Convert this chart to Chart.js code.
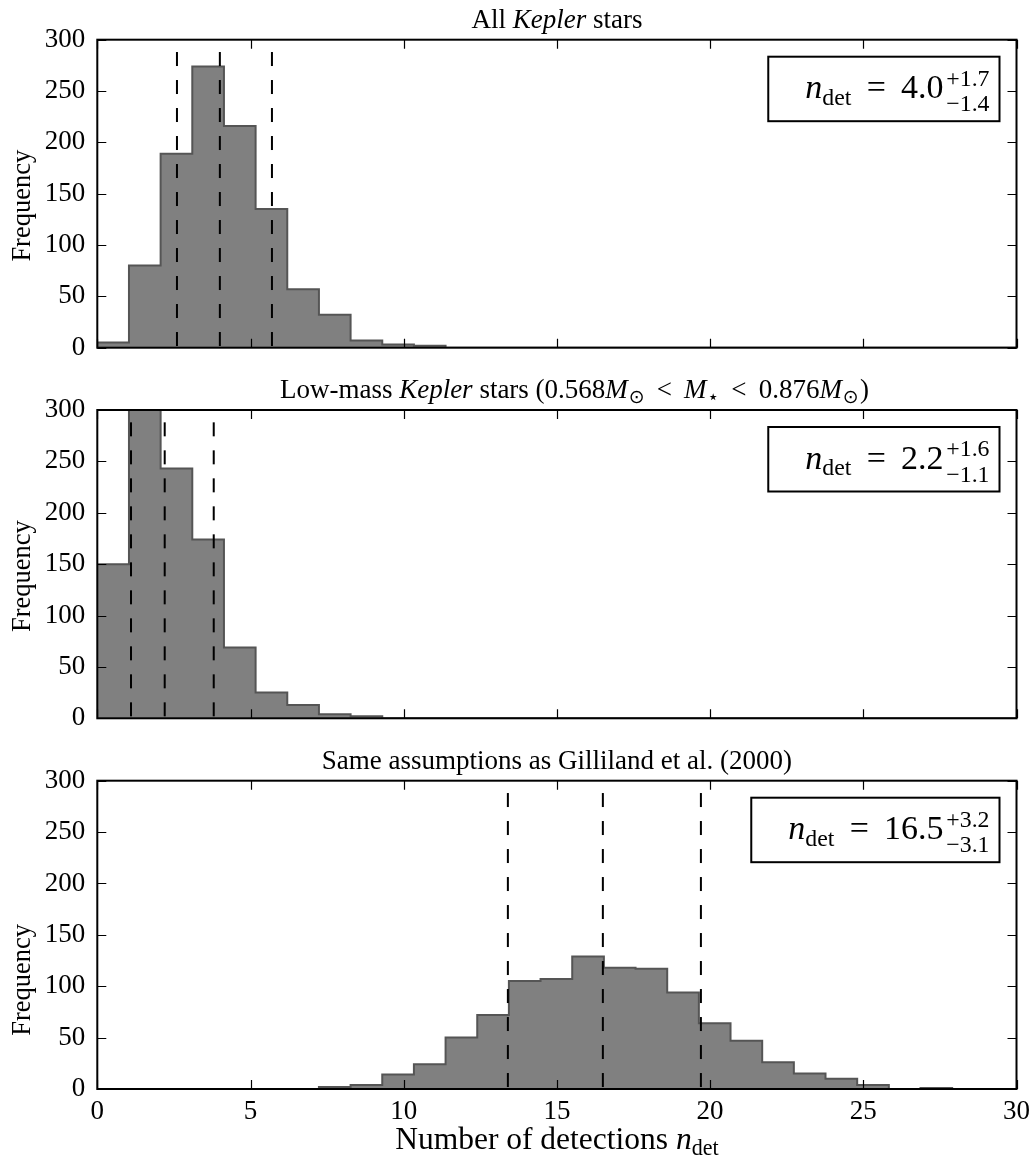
<!DOCTYPE html>
<html>
<head>
<meta charset="utf-8">
<script src="https://cdn.jsdelivr.net/npm/chart.js@4.4.1/dist/chart.umd.min.js"></script>
<style>
html,body{margin:0;padding:0;background:#fff;}
#wrap{position:relative;width:1030px;height:1161px;background:#fff;}
canvas{position:absolute;left:0;top:0;}
</style>
</head>
<body>
<div id="wrap">
<canvas id="c1" width="1030" height="1161"></canvas>
<canvas id="c2" width="1030" height="1161"></canvas>
<canvas id="c3" width="1030" height="1161"></canvas>
</div>
<script>
// ---------------- data ----------------
const binWidth = 31 / 30;           // 30 bins spanning 0..31
const xTicks = [0, 5, 10, 15, 20, 25, 30];
const yTicks = [0, 50, 100, 150, 200, 250, 300];

const countsAll = [5, 80, 189, 274, 216, 135, 57, 32, 7, 3, 2, 0, 0, 0, 0,
                   0, 0, 0, 0, 0, 0, 0, 0, 0, 0, 0, 0, 0, 0, 0];
const countsLowMass = [150, 320, 243, 174, 69, 25, 13, 4, 2, 0, 0, 0, 0, 0, 0,
                       0, 0, 0, 0, 0, 0, 0, 0, 0, 0, 0, 0, 0, 0, 0];
const countsGilliland = [0, 0, 0, 0, 0, 0, 0, 2, 4, 14, 24, 50, 72, 105, 107,
                         129, 118, 117, 94, 64, 47, 26, 15, 10, 4, 0, 1, 0, 0, 0];

const quantAll = [2.6, 4.0, 5.7];
const quantLowMass = [1.1, 2.2, 3.8];
const quantGilliland = [13.4, 16.5, 19.7];
const dashTop = 288;

const medianAll = ['4.0', '+1.7', '\u22121.4'];
const medianLowMass = ['2.2', '+1.6', '\u22121.1'];
const medianGilliland = ['16.5', '+3.2', '\u22123.1'];

const titleAll = [{t: 'All '}, {t: 'Kepler', i: true}, {t: ' stars'}];
const titleLowMass = [{t: 'Low-mass '}, {t: 'Kepler', i: true}, {t: ' stars ('},
  {t: '0.568'}, {t: 'M', i: true}, {g: 0.03}, {t: '\u2299', s: 0.7, dy: 0.18, ff: 'sans'},
  {g: 0.45}, {t: '<'}, {g: 0.45}, {t: 'M', i: true}, {g: 0.03}, {t: '\u22C6', s: 0.7, dy: 0.18, ff: 'sans'},
  {g: 0.45}, {t: '<'}, {g: 0.45}, {t: '0.876'}, {t: 'M', i: true}, {g: 0.03}, {t: '\u2299', s: 0.7, dy: 0.18, ff: 'sans'}, {g: 0.05}, {t: ')'}];
const titleGilliland = [{t: 'Same assumptions as Gilliland et al. (2000)'}];
const xLabelRuns = [{t: 'Number of detections '}, {t: 'n', i: true}, {t: 'det', s: 0.7, dy: 0.2}];
const yLabelText = 'Frequency';

// ---------------- helpers ----------------
const FF = '"Liberation Serif","Times New Roman",serif';
const FS = '"DejaVu Sans",sans-serif';
function fnt(italic, size, fam) { return (italic ? 'italic ' : '') + size + 'px ' + (fam === 'sans' ? FS : FF); }

function measureRuns(ctx, runs, size) {
  let w = 0;
  for (const r of runs) {
    if (r.g !== undefined) {
      r._w = r.g * size;
    } else if (r.sup !== undefined) {
      ctx.font = fnt(false, size * r.s);
      r._w = Math.max(ctx.measureText(r.sup).width, ctx.measureText(r.sub).width);
    } else {
      ctx.font = fnt(r.i, size * (r.s || 1), r.ff);
      r._w = ctx.measureText(r.t).width;
    }
    w += r._w;
  }
  return w;
}
function drawRuns(ctx, runs, size, x, y, align) {
  const w = measureRuns(ctx, runs, size);
  let cx = align === 'center' ? x - w / 2 : (align === 'right' ? x - w : x);
  ctx.textAlign = 'left';
  ctx.textBaseline = 'alphabetic';
  ctx.fillStyle = '#000';
  for (const r of runs) {
    if (r.g !== undefined) {
      // spacing only
    } else if (r.sup !== undefined) {
      ctx.font = fnt(false, size * r.s);
      ctx.fillText(r.sup, cx, y - r.up * size);
      ctx.fillText(r.sub, cx, y + r.down * size);
    } else {
      ctx.font = fnt(r.i, size * (r.s || 1), r.ff);
      ctx.fillText(r.t, cx, y + (r.dy || 0) * size);
    }
    cx += r._w;
  }
  return w;
}

const decoPlugin = {
  id: 'panelDeco',
  afterDraw(chart, args, o) {
    const ctx = chart.ctx;
    const ca = chart.chartArea;
    const xs = chart.scales.x, ys = chart.scales.y;
    ctx.save();
    // inward tick marks on all four sides
    ctx.strokeStyle = '#000';
    ctx.lineWidth = 1.2;
    ctx.beginPath();
    const tl = 9;
    for (const t of xs.ticks) {
      const px = Math.round(xs.getPixelForValue(t.value)) + 0.5;
      ctx.moveTo(px, ca.bottom); ctx.lineTo(px, ca.bottom - tl);
      ctx.moveTo(px, ca.top); ctx.lineTo(px, ca.top + tl);
    }
    for (const t of ys.ticks) {
      const py = Math.round(ys.getPixelForValue(t.value)) + 0.5;
      ctx.moveTo(ca.left, py); ctx.lineTo(ca.left + tl, py);
      ctx.moveTo(ca.right, py); ctx.lineTo(ca.right - tl, py);
    }
    ctx.stroke();
    // frame
    ctx.lineWidth = 2;
    ctx.strokeRect(ca.left, ca.top, ca.right - ca.left, ca.bottom - ca.top);

    // annotation box
    const m = o.median;
    const runs = [{t: 'n', i: true}, {t: 'det', s: 0.7, dy: 0.2}, {g: 0.45}, {t: '='}, {g: 0.45},
                  {t: m[0]}, {g: 0.08}, {sup: m[1], sub: m[2], s: 0.7, up: 0.36, down: 0.39}];
    const size = 34;
    const w = measureRuns(ctx, runs, size);
    const bxR = ca.right - 17, bxT = ca.top + 17, bxH = 64.5;
    const textR = bxR - 10;
    const bxL = textR - w - 37;
    ctx.fillStyle = '#fff';
    ctx.fillRect(bxL, bxT, bxR - bxL, bxH);
    ctx.lineWidth = 2;
    ctx.strokeStyle = '#000';
    ctx.strokeRect(bxL, bxT, bxR - bxL, bxH);
    drawRuns(ctx, runs, size, textR, bxT + 41.5, 'right');

    // panel title
    drawRuns(ctx, o.title, 27, (ca.left + ca.right) / 2 + (o.titleDx || 0), ca.top - 12, 'center');

    // y label
    ctx.save();
    ctx.translate(30, (ca.top + ca.bottom) / 2 + o.yLabelDy);
    ctx.rotate(-Math.PI / 2);
    ctx.font = fnt(false, 26.5);
    ctx.textAlign = 'center';
    ctx.textBaseline = 'alphabetic';
    ctx.fillStyle = '#000';
    ctx.fillText(yLabelText, 0, 0);
    ctx.restore();

    // x label
    if (o.xLabel) {
      drawRuns(ctx, xLabelRuns, 31.5, (ca.left + ca.right) / 2, 1149, 'center');
    }
    ctx.restore();
  }
};

function makePanel(id, counts, quants, top, bottom, isBottom, deco) {
  const hist = counts.map((c, i) => ({x: i * binWidth, y: c}));
  hist.push({x: counts.length * binWidth, y: 0});
  const datasets = quants.map(q => ({
    data: [{x: q, y: dashTop}, {x: q, y: 0}],
    borderColor: '#000', borderWidth: 2, borderDash: [14, 14],
    pointRadius: 0, fill: false, order: 0
  }));
  datasets.push({
    data: hist, stepped: true, fill: 'origin',
    backgroundColor: '#808080', borderColor: '#555555', borderWidth: 2,
    pointRadius: 0, order: 1
  });
  const tickFont = {family: FF, size: 27};
  return new Chart(document.getElementById(id), {
    type: 'line',
    data: {datasets},
    options: {
      responsive: false,
      animation: false,
      events: [],
      layout: {padding: {left: 0, right: 13.5, top: top, bottom: isBottom ? 0 : 1161 - bottom}},
      plugins: {legend: {display: false}, tooltip: {enabled: false}, panelDeco: deco},
      scales: {
        x: {
          type: 'linear', min: 0, max: 30,
          afterBuildTicks: s => { s.ticks = xTicks.map(v => ({value: v})); },
          ticks: {display: isBottom, font: tickFont, color: '#000', padding: 7, maxRotation: 0, autoSkip: false},
          grid: {display: false, drawTicks: false},
          border: {display: false},
          afterFit: s => { s.height = isBottom ? 1161 - bottom : 0; s.paddingLeft = 0; s.paddingRight = 0; }
        },
        y: {
          type: 'linear', min: 0, max: 300,
          afterBuildTicks: s => { s.ticks = yTicks.map(v => ({value: v})); },
          ticks: {font: tickFont, color: '#000', padding: 12},
          grid: {display: false, drawTicks: false},
          border: {display: false},
          afterFit: s => { s.width = 97.3; s.paddingTop = 0; s.paddingBottom = 0; }
        }
      }
    },
    plugins: [decoPlugin]
  });
}

makePanel('c1', countsAll, quantAll, 39.7, 347.7, false,
  {median: medianAll, title: titleAll, yLabelDy: 12, xLabel: false});
makePanel('c2', countsLowMass, quantLowMass, 410, 718.3, false,
  {median: medianLowMass, title: titleLowMass, titleDx: 17.5, yLabelDy: 12, xLabel: false});
makePanel('c3', countsGilliland, quantGilliland, 780.7, 1089, true,
  {median: medianGilliland, title: titleGilliland, yLabelDy: 45, xLabel: true});
</script>
</body>
</html>
